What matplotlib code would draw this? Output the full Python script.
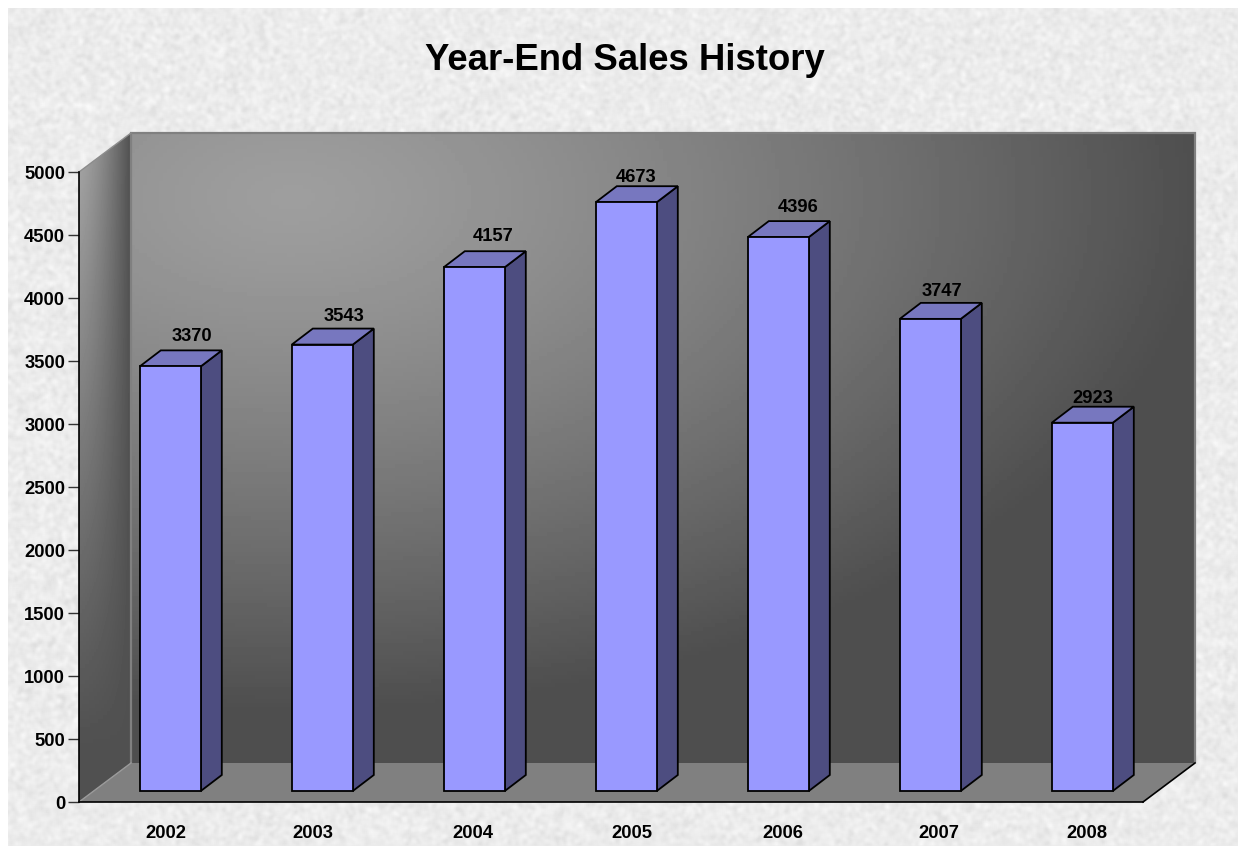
import numpy as np
import matplotlib
matplotlib.use('Agg')
import matplotlib.pyplot as plt
from matplotlib.patches import Polygon
from matplotlib.transforms import ScaledTranslation

years = ['2002', '2003', '2004', '2005', '2006', '2007', '2008']
sales = [3370, 3543, 4157, 4673, 4396, 3747, 2923]
y_ticks = [0, 500, 1000, 1500, 2000, 2500, 3000, 3500, 4000, 4500, 5000]

# hand placed label nudges, in pixels
label_dx = [22, 22, 19, 10, 20, 12, 11]
label_dy = [14, 12, 15, 9, 14, 11, 8]
year_dx = [11, 6, 14, 21, 20, 24, 20]

W, H = 1238, 846
plt.rcParams['font.family'] = ['Liberation Sans', 'DejaVu Sans']
plt.rcParams['font.weight'] = 'bold'

# 3d look, in category / value units
wall_dx, wall_dy = 52 / 152, 39 / 0.126
bar_dx, bar_dy = 21 / 152, 16 / 0.126
off_dx, off_dy = 15.3 / 152, 11 / 0.126
bar_w = 61 / 152

fig = plt.figure(figsize=(W / 100, H / 100), dpi=100, facecolor='white')

# paper texture behind everything
rng = np.random.default_rng(3)
tex = rng.normal(size=(H, W))
for k in (5, 3):
    kern = np.ones(k) / k
    tex = np.apply_along_axis(lambda r: np.convolve(r, kern, mode='same'), 1, tex)
    tex = np.apply_along_axis(lambda c: np.convolve(c, kern, mode='same'), 0, tex)
tex = 235 + tex / tex.std() * 3.5
tex[:8, :] = 255
tex[:, :8] = 255
bg = fig.add_axes([0, 0, 1, 1], zorder=0)
bg.imshow(tex, cmap='gray', vmin=0, vmax=255, aspect='auto', interpolation='bilinear')
bg.axis('off')

ax = fig.add_axes([79 / W, (H - 802) / H, 1064 / W, 630 / H], zorder=1)
ax.patch.set_alpha(0)

# back wall
gx, gy = np.meshgrid(np.linspace(0, 1, 266), np.linspace(0, 1, 158))
r = np.sqrt(((gx - 0.15) / 0.86) ** 2 + ((gy - 0.1) / 0.82) ** 2)
back = 78 + 80 * (1 - np.clip(r, 0, 1) ** 1.3)
ax.imshow(back, cmap='gray', vmin=0, vmax=255, aspect='auto', origin='upper',
          extent=(wall_dx, 7 + wall_dx, wall_dy, 5000 + wall_dy), zorder=1, clip_on=False)
ax.add_patch(Polygon([(wall_dx, wall_dy), (wall_dx, 5000 + wall_dy), (7 + wall_dx, 5000 + wall_dy),
                      (7 + wall_dx, wall_dy)], closed=False, fill=False, ec='#808080', lw=1.6,
                     zorder=2, clip_on=False))

# left wall
gx, gy = np.meshgrid(np.linspace(0, 1, 52), np.linspace(0, 1, 170))
fade = np.clip(1 - gy / 0.92, 0, 1)
side = 80 + fade * (1 - gx ** 1.4) * 85
left_poly = Polygon([(0, 0), (wall_dx, wall_dy), (wall_dx, 5000 + wall_dy), (0, 5000)],
                    transform=ax.transData, fc='none', ec='none', clip_on=False)
ax.add_patch(left_poly)
im = ax.imshow(side, cmap='gray', vmin=0, vmax=255, aspect='auto', origin='upper',
               extent=(0, wall_dx, 0, 5000 + wall_dy), zorder=1)
im.set_clip_box(fig.bbox)
im.set_clip_path(left_poly)
ax.plot([0, wall_dx], [5000, 5000 + wall_dy], color='#8c8c8c', lw=1, zorder=2, clip_on=False)

# floor
ax.add_patch(Polygon([(0, 0), (7, 0), (7 + wall_dx, wall_dy), (wall_dx, wall_dy)],
                     fc='#808080', ec='none', zorder=2, clip_on=False))
ax.plot([0, wall_dx], [0, wall_dy], color='#9a9a9a', lw=1, zorder=3, clip_on=False)
ax.plot([7, 7 + wall_dx], [0, wall_dy], color='black', lw=1.2, zorder=3, clip_on=False)

# bars
x = np.arange(len(sales)) + 0.5 + off_dx
ax.bar(x, sales, width=bar_w, bottom=off_dy, color='#9999ff', edgecolor='black',
       linewidth=1.3, zorder=5, clip_on=False)
for xi, v in zip(x, sales):
    l, rt = xi - bar_w / 2, xi + bar_w / 2
    top = v + off_dy
    ax.add_patch(Polygon([(rt, off_dy), (rt + bar_dx, off_dy + bar_dy), (rt + bar_dx, top + bar_dy), (rt, top)],
                         fc='#4d4d80', ec='black', lw=1.3, zorder=4, clip_on=False))
    ax.add_patch(Polygon([(l, top), (l + bar_dx, top + bar_dy), (rt + bar_dx, top + bar_dy), (rt, top)],
                         fc='#7777bf', ec='black', lw=1.3, zorder=4, clip_on=False))

for xi, v, dx, dy in zip(x, sales, label_dx, label_dy):
    # anchor on the back top edge of the bar
    ax.annotate(str(v), xy=(xi, v + off_dy + bar_dy), xytext=(dx * 0.72, dy * 0.72),
                textcoords='offset points', ha='center', va='center', fontsize=13.2,
                fontweight='bold', color='black', zorder=6, annotation_clip=False)

ax.set_xlim(0, 7)
ax.set_ylim(0, 5000)
ax.set_yticks(y_ticks)
ax.set_xticks(np.arange(len(years)) + 0.5)
ax.set_xticklabels(years)
ax.tick_params(axis='x', length=0, pad=16.5, labelsize=13.2)
ax.tick_params(axis='y', length=8, width=1, pad=2, labelsize=13.2, color='#333333')
for lab, dx in zip(ax.get_xticklabels(), year_dx):
    lab.set_transform(lab.get_transform() + ScaledTranslation(dx / 100, 0, fig.dpi_scale_trans))
for s in ('top', 'right'):
    ax.spines[s].set_visible(False)
for s in ('left', 'bottom'):
    ax.spines[s].set_linewidth(1.2)
    ax.spines[s].set_zorder(4)

fig.text(624.5 / W, 1 - 60 / H, 'Year-End Sales History', ha='center', va='center',
         fontsize=26.3, fontweight='bold', color='black')

fig.savefig('out.png', dpi=100)
